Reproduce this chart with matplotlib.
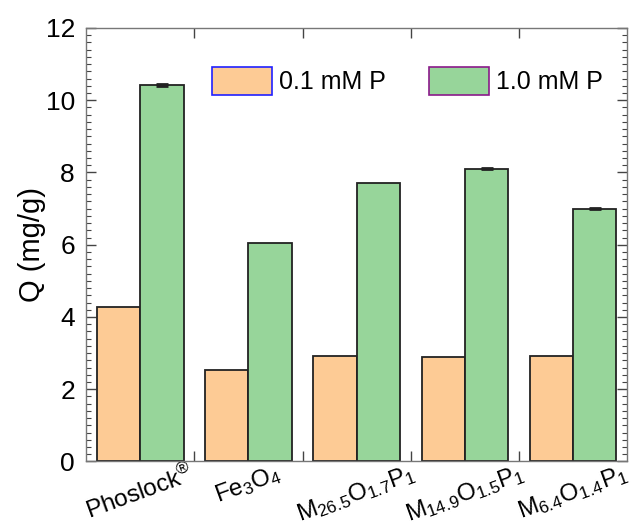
import numpy as np
import matplotlib.pyplot as plt
from matplotlib.ticker import MultipleLocator, FixedLocator, NullFormatter
from matplotlib.patches import Patch

plt.rcParams['font.family'] = ['Liberation Sans', 'DejaVu Sans']
plt.rcParams['mathtext.fontset'] = 'custom'
plt.rcParams['mathtext.rm'] = 'Liberation Sans'
plt.rcParams['mathtext.it'] = 'Liberation Sans'
plt.rcParams['mathtext.default'] = 'regular'

samples = [r'Phoslock$^{\circledR}$', r'Fe$_3$O$_4$', r'M$_{26.5}$O$_{1.7}$P$_1$',
           r'M$_{14.9}$O$_{1.5}$P$_1$', r'M$_{6.4}$O$_{1.4}$P$_1$']
q_low = [4.29, 2.53, 2.93, 2.90, 2.92]
q_high = [10.42, 6.05, 7.70, 8.11, 7.00]
err_high = [0.03, 0.0, 0.0, 0.015, 0.015]

fig = plt.figure(figsize=(6.33, 5.28), dpi=100)
ax = fig.add_axes([0.136, 0.126, 0.855, 0.821])

x = np.arange(1, len(samples) + 1)
w = 0.4
ax.bar(x - w / 2, q_low, w, color='#fdcb95', edgecolor='#222222',
       linewidth=1.3, zorder=2)
ax.bar(x + w / 2, q_high, w, color='#97d59a', edgecolor='#222222',
       linewidth=1.3, zorder=2)

# only the 1.0 mM points with a visible spread get an error bar
has_err = np.array(err_high) > 0
ax.errorbar((x + w / 2)[has_err], np.array(q_high)[has_err],
            yerr=np.array(err_high)[has_err], fmt='none', ecolor='#222222',
            elinewidth=1, capsize=4, capthick=2, zorder=3)

ax.set_xlim(0.5, 5.5)
ax.set_ylim(0, 12)

# boundaries between samples get the ticks, names sit under each group
ax.xaxis.set_major_locator(FixedLocator(x[:-1] + 0.5))
ax.xaxis.set_major_formatter(NullFormatter())
ax.set_xticks(x, samples, minor=True)
ax.tick_params(axis='x', which='minor', length=0, pad=0, labelsize=17.5,
               labelrotation=20)
for lab in ax.get_xticklabels(minor=True):
    lab.set_ha('center')

ax.yaxis.set_major_locator(MultipleLocator(2))
ax.yaxis.set_minor_locator(MultipleLocator(0.2))
ax.tick_params(axis='both', which='major', direction='in', length=7, width=1,
               color='#444444', top=True, right=True, labelsize=19)
ax.tick_params(axis='y', which='minor', direction='in', length=3.5, width=0.8,
               color='#444444', right=True)
ax.tick_params(axis='y', which='major', pad=8)

for s in ax.spines.values():
    s.set_color('#777777')
    s.set_linewidth(1)

ax.set_ylabel('Q (mg/g)', fontsize=21, labelpad=0)

# legend boxes with coloured outlines
handles = [Patch(facecolor='#fdcb95', edgecolor='#2020ff', linewidth=1.2),
           Patch(facecolor='#97d59a', edgecolor='#8a1a8a', linewidth=1.2)]
ax.legend(handles, ['0.1 mM P', '1.0 mM P'], ncol=2, frameon=False,
          fontsize=18, handlelength=2.4, handleheight=1.35, handletextpad=0.3,
          columnspacing=1.7, borderpad=0, loc='upper left',
          bbox_to_anchor=(0.209, 0.939))

fig.savefig('out.png', dpi=100)
